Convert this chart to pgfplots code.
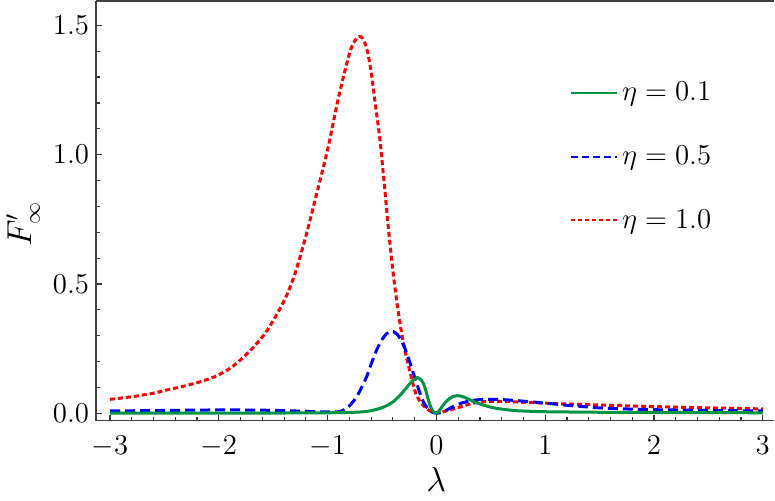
\documentclass[border=0pt]{standalone}
\usepackage{pgfplots}
\pgfplotsset{compat=1.18}
\definecolor{cgreen}{RGB}{0,148,68}
\definecolor{cblue}{RGB}{0,0,255}
\definecolor{cred}{RGB}{255,0,0}
\pgfplotsset{legend image code/.code={\draw[#1] (0pt,0pt) -- (23pt,0pt);}}
\begin{document}
\begin{tikzpicture}
\begin{axis}[
  name=ax, scale only axis, width=339pt, height=209.85pt,
  xmin=-3.129, xmax=3.103, ymin=-0.0286, ymax=1.594,
  axis x line*=box, axis y line*=left,
  xtick pos=left, ytick pos=left,
  xtick={-3,-2,-1,0,1,2,3}, ytick={0,0.5,1,1.5},
  minor x tick num=4, minor y tick num=4,
  tick align=inside,
  major tick length=3pt, minor tick length=2pt,
  every tick/.style={black!80, line width=0.6pt},
  axis line style={black!75, line width=0.75pt},
  tick label style={font=\fontsize{14}{16}\selectfont},
  xticklabel style={yshift=-4pt},
  yticklabel style={/pgf/number format/fixed, /pgf/number format/fixed zerofill, /pgf/number format/precision=1},
  xlabel={$\lambda$}, ylabel={$F'_\infty$},
  every axis x label/.style={at={(rel axis cs:0.502,-0.1696)}, anchor=base, font=\fontsize{17}{20}\selectfont},
  every axis y label/.style={at={(rel axis cs:-0.0955,0.4675)}, rotate=90, anchor=base, inner sep=0pt, font=\fontsize{16}{19}\selectfont},
  legend style={at={(rel axis cs:0.69,0.826)}, anchor=north west, draw=none, fill=none,
    font=\fontsize{15}{17}\selectfont, row sep=17pt},
  legend cell align=left,
]
\addlegendimage{cgreen, line width=1pt}
\addlegendentry{$\eta=0.1$}
\addlegendimage{cblue, line width=1pt, dash pattern=on 3.5pt off 2pt}
\addlegendentry{$\eta=0.5$}
\addlegendimage{cred, line width=1pt, dash pattern=on 2pt off 1.5pt}
\addlegendentry{$\eta=1.0$}
% red eta=1.0
\addplot[cred, line width=1.5pt, dash pattern=on 2.5pt off 1.5pt, smooth, forget plot] coordinates {
(-3.00,0.054) (-2.80,0.064) (-2.60,0.078) (-2.48,0.090) (-2.33,0.104) (-2.17,0.122)
(-2.02,0.145) (-1.87,0.182) (-1.71,0.243) (-1.56,0.318) (-1.40,0.435) (-1.30,0.540)
(-1.20,0.685) (-1.10,0.850) (-1.00,1.020) (-0.90,1.220) (-0.80,1.390) (-0.75,1.440)
(-0.71,1.456) (-0.68,1.450) (-0.64,1.410) (-0.60,1.320) (-0.56,1.190) (-0.52,1.060)
(-0.48,0.890) (-0.44,0.710) (-0.40,0.550) (-0.36,0.420) (-0.32,0.310) (-0.28,0.225)
(-0.24,0.155) (-0.20,0.090) (-0.16,0.052) (-0.12,0.030) (-0.08,0.015) (-0.04,0.005)
(0.00,0.001) (0.06,0.006) (0.125,0.013) (0.20,0.022) (0.278,0.032) (0.40,0.044)
(0.585,0.046) (0.89,0.041) (1.20,0.036) (1.50,0.032) (2.00,0.026) (2.50,0.021) (3.00,0.017)
};
% blue eta=0.5
\addplot[cblue, line width=1.5pt, dash pattern=on 5pt off 2.5pt, smooth, forget plot] coordinates {
(-3.0,0.009) (-2.5,0.011) (-2.0,0.013) (-1.6,0.012) (-1.3,0.009) (-1.1,0.006)
(-0.95,0.005) (-0.886,0.007) (-0.825,0.019) (-0.78,0.038) (-0.733,0.064) (-0.69,0.098)
(-0.641,0.142) (-0.60,0.190) (-0.549,0.245) (-0.50,0.285) (-0.457,0.308) (-0.42,0.316)
(-0.396,0.316) (-0.36,0.305) (-0.335,0.290) (-0.30,0.262) (-0.273,0.232) (-0.24,0.192)
(-0.212,0.155) (-0.18,0.115) (-0.151,0.077) (-0.12,0.045) (-0.09,0.024) (-0.05,0.007)
(-0.013,0.001) (0.02,0.001) (0.063,0.006) (0.10,0.014) (0.155,0.026) (0.20,0.035)
(0.278,0.045) (0.40,0.053) (0.55,0.054) (0.707,0.050) (0.85,0.045) (1.01,0.039)
(1.20,0.031) (1.32,0.027) (1.5,0.021) (1.8,0.016) (2.0,0.014) (2.5,0.011) (3.0,0.009)
};
% green eta=0.1
\addplot[cgreen, line width=1.5pt, smooth, forget plot] coordinates {
(-3.0,0.001) (-2.0,0.001) (-1.5,0.001) (-1.0,0.002) (-0.825,0.003) (-0.7,0.005)
(-0.641,0.007) (-0.58,0.012) (-0.518,0.019) (-0.45,0.031) (-0.396,0.045) (-0.35,0.063)
(-0.304,0.084) (-0.26,0.107) (-0.227,0.123) (-0.20,0.133) (-0.175,0.138) (-0.15,0.133)
(-0.12,0.116) (-0.095,0.085) (-0.074,0.051) (-0.05,0.022) (-0.028,0.006) (0.0,0.000)
(0.03,0.012) (0.063,0.032) (0.095,0.048) (0.125,0.058) (0.155,0.065) (0.187,0.068)
(0.23,0.066) (0.278,0.058) (0.34,0.046) (0.40,0.036) (0.47,0.027) (0.554,0.019)
(0.707,0.011) (0.85,0.008) (1.01,0.006) (1.5,0.004) (2.0,0.003) (3.0,0.002)
};
\end{axis}
\pgfresetboundingbox
\path[use as bounding box] ([xshift=-48pt,yshift=-40.15pt]ax.south west) rectangle ([xshift=0.5pt,yshift=0.5pt]ax.north east);
\end{tikzpicture}
\end{document}
